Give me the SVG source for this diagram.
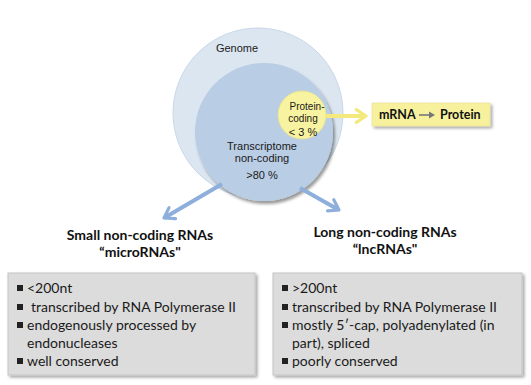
<svg xmlns="http://www.w3.org/2000/svg" width="531" height="385" viewBox="0 0 531 385">
<style>
.arial{font-family:"Liberation Sans",Arial,sans-serif;fill:#1a1a1a}
.cal{font-family:Lato,"Open Sans",sans-serif;fill:#111}
.bul{font-family:Lato,"Open Sans",sans-serif;font-size:14px;fill:#1a1a1a}
.sq{fill:#222}
.box{fill:#dcdcdc;stroke:#c4c4c4;stroke-width:1}
</style>
<defs>
<filter id="sh" x="-10%" y="-10%" width="130%" height="140%">
<feDropShadow dx="2" dy="2" stdDeviation="1.5" flood-color="#000" flood-opacity="0.35"/>
</filter>
<filter id="shc" x="-10%" y="-10%" width="130%" height="130%">
<feDropShadow dx="2" dy="3" stdDeviation="1.5" flood-color="#000" flood-opacity="0.4"/>
</filter>
<marker id="hb" viewBox="0 0 10 10" refX="8" refY="5" markerWidth="4" markerHeight="4" orient="auto" markerUnits="strokeWidth">
<polyline points="2,1 8,5 2,9" fill="none" stroke="#8eaedb" stroke-width="2" stroke-linecap="round" stroke-linejoin="round"/>
</marker>
<marker id="hy" viewBox="0 0 10 10" refX="8" refY="5" markerWidth="4" markerHeight="4" orient="auto" markerUnits="strokeWidth">
<polyline points="2,1 8,5 2,9" fill="none" stroke="#f3e97c" stroke-width="2" stroke-linecap="round" stroke-linejoin="round"/>
</marker>
</defs>
<rect width="531" height="385" fill="#fff"/>

<g id="genome">
<circle cx="258" cy="113" r="85" fill="#dce6f1" stroke="#c9d7e8" stroke-width="1"/>
<text class="arial" x="237" y="52" font-size="11" text-anchor="middle">Genome</text>
</g>

<g id="transcriptome">
<circle cx="264" cy="132" r="69" fill="#b9cde5" filter="url(#shc)"/>
<text class="arial" x="262" y="150" font-size="11" text-anchor="middle">Transcriptome</text>
<text class="arial" x="262" y="162" font-size="11" text-anchor="middle">non-coding</text>
<text class="arial" x="262" y="179" font-size="11" text-anchor="middle">&gt;80 %</text>
</g>

<g id="protein-coding">
<circle cx="302" cy="115" r="24" fill="#f8f3a0" stroke="#e9e28e" stroke-width="0.8"/>
<text class="arial" x="307" y="110" font-size="10" text-anchor="middle">Protein-</text>
<text class="arial" x="303" y="122" font-size="10" text-anchor="middle">coding</text>
<text class="arial" x="303" y="136" font-size="11" text-anchor="middle">&lt; 3 %</text>
</g>

<g id="mrna-protein">
<rect x="372" y="103" width="118" height="23" fill="#f7f19e" stroke="#e6df90" stroke-width="0.6" filter="url(#sh)"/>
<text class="cal" x="379" y="119" font-size="12.5" font-weight="bold">mRNA</text>
<line x1="419" y1="115" x2="430" y2="115" stroke="#777" stroke-width="1.6"/>
<polygon points="429,111.5 435,115 429,118.5" fill="#777"/>
<text class="cal" x="440" y="119" font-size="12.5" font-weight="bold">Protein</text>
</g>

<g id="small-label">
<text class="cal" x="140" y="240" font-size="14" text-anchor="middle" font-weight="bold">Small non-coding RNAs</text>
<text class="cal" x="140" y="257" font-size="14" text-anchor="middle" font-weight="bold">“microRNAs"</text>
</g>

<g id="long-label">
<text class="cal" x="385" y="237" font-size="14" text-anchor="middle" font-weight="bold">Long non-coding RNAs</text>
<text class="cal" x="385" y="254" font-size="14" text-anchor="middle" font-weight="bold">“lncRNAs"</text>
</g>

<g id="small-box">
<rect class="box" x="8" y="273" width="247" height="102" filter="url(#sh)"/>
<rect class="sq" x="17" y="285" width="6" height="6"/>
<text class="bul" x="27" y="293">&lt;200nt</text>
<rect class="sq" x="17" y="304" width="6" height="6"/>
<text class="bul" x="31" y="312">transcribed by RNA Polymerase II</text>
<rect class="sq" x="17" y="322" width="6" height="6"/>
<text class="bul" x="27" y="330">endogenously processed by</text>
<text class="bul" x="27" y="348">endonucleases</text>
<rect class="sq" x="17" y="358" width="6" height="6"/>
<text class="bul" x="27" y="366">well conserved</text>
</g>

<g id="long-box">
<rect class="box" x="273" y="273" width="249" height="102" filter="url(#sh)"/>
<rect class="sq" x="282" y="285" width="6" height="6"/>
<text class="bul" x="292" y="293">&gt;200nt</text>
<rect class="sq" x="282" y="304" width="6" height="6"/>
<text class="bul" x="292" y="312">transcribed by RNA Polymerase II</text>
<rect class="sq" x="282" y="322" width="6" height="6"/>
<text class="bul" x="292" y="330">mostly 5′-cap, polyadenylated (in</text>
<text class="bul" x="292" y="348">part), spliced</text>
<rect class="sq" x="282" y="358" width="6" height="6"/>
<text class="bul" x="292" y="366">poorly conserved</text>
</g>

<g id="connectors">
<line x1="326" y1="116" x2="366" y2="116" stroke="#f3e97c" stroke-width="4" marker-end="url(#hy)"/>
<line x1="222" y1="184" x2="164" y2="218" stroke="#8eaedb" stroke-width="4" marker-end="url(#hb)"/>
<line x1="300" y1="188" x2="339" y2="210" stroke="#8eaedb" stroke-width="4" marker-end="url(#hb)"/>
</g>
</svg>
